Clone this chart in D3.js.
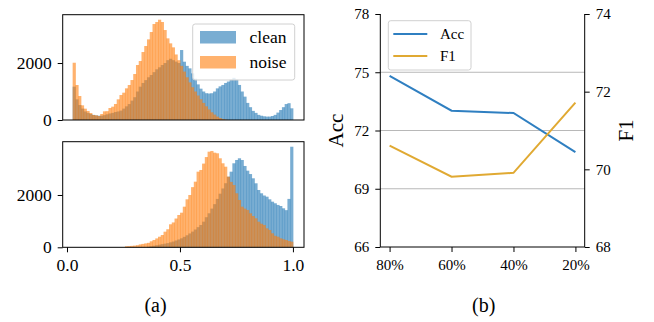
<!DOCTYPE html>
<html><head><meta charset="utf-8">
<script src="https://cdn.jsdelivr.net/npm/d3@7"></script>
<style>
body{margin:0;background:#fff}
svg{display:block}
svg text{font-family:"Liberation Serif","Times New Roman",serif !important;fill:#000}
</style>
</head><body><svg id="c" width="654" height="322"></svg>
<script>
// ---------- data ----------
const binStart = 0.025, binEnd = 1.0, binCount = 80;
const topClean = [1170,725,526,400,300,250,210,180,160,150,
  150,170,200,230,250,280,300,330,400,480,
  560,680,800,1000,1170,1300,1400,1500,1580,1680,
  1780,1850,1930,2000,2100,2150,2100,2050,2000,2456,
  2046,1900,1813,1637,1450,1250,1100,1000,940,930,
  940,1000,1110,1180,1230,1300,1350,1420,1480,1420,
  1230,1000,820,600,450,320,250,180,150,130,
  120,120,140,180,260,350,450,560,590,410];
const topNoise = [2010,1228,842,515,398,316,246,175,164,140,
  210,304,310,421,468,562,725,877,959,1111,
  1228,1403,1614,1930,2070,2386,2597,2830,3088,3369,
  3439,3520,3439,3158,2866,2690,2550,2300,2100,1900,
  1700,1500,1320,1150,1000,860,730,600,480,370,
  270,190,120,70,35,12,0,0,0,0,
  0,0,0,0,0,0,0,0,0,0,
  0,0,0,0,0,0,0,0,0,0];
const bottomClean = [0,0,0,0,0,0,0,0,0,0,
  0,0,0,0,0,0,0,0,0,0,
  0,0,0,0,0,0,0,20,40,60,
  80,100,120,140,160,190,220,260,300,344,
  400,460,530,600,680,770,853,980,1150,1300,
  1480,1650,1850,2050,2250,2450,2700,2891,3212,3338,
  3403,3338,3109,2929,2800,2638,2447,2191,2065,1980,
  1935,1835,1744,1683,1620,1579,1491,1420,1850,3845];
const bottomNoise = [0,0,0,0,0,0,0,0,0,0,
  0,0,0,0,0,0,0,0,0,40,
  45,55,65,80,110,130,150,170,230,280,
  340,405,470,597,690,880,950,1100,1235,1323,
  1553,1835,2000,2300,2509,2891,2956,3200,3450,3656,
  3683,3618,3594,3403,3212,3082,2700,2500,2382,2065,
  1809,1553,1480,1426,1300,1197,1109,979,900,853,
  726,662,535,440,405,344,306,279,241,214];
const histYTicks = [0, 2000];
const histXTicks = [0.0, 0.5, 1.0];
const histLegend = ["clean", "noise"];

const categories = ["80%", "60%", "40%", "20%"];
const acc = [74.81, 73.02, 72.90, 70.89];
const f1 = [70.61, 69.81, 69.91, 71.72];
const accTicks = [66, 69, 72, 75, 78];
const f1Ticks = [68, 70, 72, 74];
const lineLegend = ["Acc", "F1"];
const captions = ["(a)", "(b)"];

// ---------- styles ----------
const SERIF = '"Liberation Serif","Times New Roman",serif';
const blueFill = "rgba(31,119,180,0.6)";
const orangeFill = "rgba(255,127,14,0.6)";
const accColor = "#2f7fc1";
const f1Color = "#e0a932";

const svg = d3.select("#c");

// ---------- histograms ----------
const hx = d3.scaleLinear().domain([-0.019, 1.049]).range([62.7, 304]);
const bw = (binEnd - binStart) / binCount;

function styleText(sel, size) {
  sel.attr("font-size", size).style("font-family", SERIF).style("font-size", size + "px").attr("fill", "#000");
}

function histPanel(top, bottom, clean, noise, showX, showLegend) {
  const g = svg.append("g");
  const ymax = d3.max(clean.concat(noise)) * 1.05;
  const y = d3.scaleLinear().domain([0, ymax]).range([bottom, top]);
  [[clean, blueFill], [noise, orangeFill]].forEach(([arr, col]) => {
    g.append("g").selectAll("rect").data(arr).join("rect")
      .attr("x", (d, i) => hx(binStart + i * bw))
      .attr("width", (d, i) => hx(binStart + (i + 1) * bw) - hx(binStart + i * bw) + 0.45)
      .attr("y", d => y(d))
      .attr("height", d => y(0) - y(d))
      .attr("fill", col);
  });
  const ya = g.append("g").attr("transform", `translate(${hx.range()[0]},0)`)
    .call(d3.axisLeft(y).tickValues(histYTicks).tickFormat(d3.format("d")).tickSize(5).tickPadding(6).tickSizeOuter(0));
  ya.attr("font-family", null);
  ya.select(".domain").remove();
  ya.selectAll("line").attr("stroke", "#000").attr("stroke-width", 1);
  styleText(ya.selectAll("text"), 17.5);
  if (showX) {
    const xa = g.append("g").attr("transform", `translate(0,${bottom})`)
      .call(d3.axisBottom(hx).tickValues(histXTicks).tickFormat(d3.format(".1f")).tickSize(5).tickSizeOuter(0));
    xa.attr("font-family", null);
    xa.select(".domain").remove();
    xa.selectAll("line").attr("stroke", "#000").attr("stroke-width", 1);
    styleText(xa.selectAll("text"), 17.5);
    xa.selectAll("text").attr("y", 11.5);
  }
  g.append("rect").attr("x", hx.range()[0]).attr("y", top)
    .attr("width", hx.range()[1] - hx.range()[0]).attr("height", bottom - top)
    .attr("fill", "none").attr("stroke", "#000").attr("stroke-width", 1);
  if (showLegend) {
    const lg = g.append("g");
    lg.append("rect").attr("x", 192.7).attr("y", 24).attr("width", 102).attr("height", 56)
      .attr("rx", 2.5).attr("fill", "rgba(255,255,255,0.8)").attr("stroke", "#d0d0d0").attr("stroke-width", 1);
    [blueFill, orangeFill].forEach((c, i) => {
      lg.append("rect").attr("x", 200).attr("y", 31 + i * 25).attr("width", 36).attr("height", 12.5).attr("fill", c);
      const t = lg.append("text").attr("x", 249.5).attr("y", 37.3 + i * 25).attr("dy", "0.35em").text(histLegend[i]);
      styleText(t, 17.5);
    });
  }
}
histPanel(14.7, 120, topClean, topNoise, false, true);
histPanel(141.7, 247.3, bottomClean, bottomNoise, true, false);

// ---------- line chart ----------
const lx = d3.scaleLinear().domain([-0.15, 3.15]).range([380.3, 584.7]);
const yl = d3.scaleLinear().domain([66, 78]).range([247, 14]);
const yr = d3.scaleLinear().domain([68, 74]).range([247, 14]);
const rg = svg.append("g");

rg.append("g").selectAll("line").data(accTicks.filter(t => t > 66 && t < 78)).join("line")
  .attr("x1", lx.range()[0]).attr("x2", lx.range()[1])
  .attr("y1", d => yl(d)).attr("y2", d => yl(d))
  .attr("stroke", "#b8b8b8").attr("stroke-width", 1);

rg.append("line").attr("x1", lx.range()[0]).attr("x2", lx.range()[0]).attr("y1", 14).attr("y2", 247).attr("stroke", "#000");
rg.append("line").attr("x1", lx.range()[1]).attr("x2", lx.range()[1]).attr("y1", 14).attr("y2", 247).attr("stroke", "#000");
rg.append("line").attr("x1", lx.range()[0]).attr("x2", lx.range()[1]).attr("y1", 247).attr("y2", 247).attr("stroke", "#000");

const axL = rg.append("g").attr("transform", `translate(${lx.range()[0]},0)`)
  .call(d3.axisLeft(yl).tickValues(accTicks).tickFormat(d3.format("d")).tickSize(5).tickPadding(6).tickSizeOuter(0));
const axR = rg.append("g").attr("transform", `translate(${lx.range()[1]},0)`)
  .call(d3.axisRight(yr).tickValues(f1Ticks).tickFormat(d3.format("d")).tickSize(5).tickPadding(6).tickSizeOuter(0));
const axB = rg.append("g").attr("transform", `translate(0,247)`)
  .call(d3.axisBottom(lx).tickValues(d3.range(categories.length)).tickFormat(i => categories[i]).tickSize(5).tickSizeOuter(0));
[axL, axR, axB].forEach(a => {
  a.attr("font-family", null);
  a.select(".domain").remove();
  a.selectAll("line").attr("stroke", "#000").attr("stroke-width", 1);
  styleText(a.selectAll("text"), 15);
});
axB.selectAll("text").attr("y", 12.5);

const lineGen = yScale => d3.line().x((d, i) => lx(i)).y(d => yScale(d));
rg.append("path").datum(acc).attr("d", lineGen(yl)).attr("fill", "none").attr("stroke", accColor).attr("stroke-width", 2);
rg.append("path").datum(f1).attr("d", lineGen(yr)).attr("fill", "none").attr("stroke", f1Color).attr("stroke-width", 2);

styleText(rg.append("text").attr("transform", "translate(343,130.5) rotate(-90)").attr("text-anchor", "middle").text("Acc"), 21);
styleText(rg.append("text").attr("transform", "translate(633,130.5) rotate(-90)").attr("text-anchor", "middle").text("F1"), 21);

const lg2 = rg.append("g");
lg2.append("rect").attr("x", 388.3).attr("y", 20.7).attr("width", 82.7).attr("height", 49.3)
  .attr("rx", 2.5).attr("fill", "rgba(255,255,255,0.8)").attr("stroke", "#d0d0d0").attr("stroke-width", 1);
[accColor, f1Color].forEach((c, i) => {
  lg2.append("line").attr("x1", 393.3).attr("x2", 427.3).attr("y1", 34 + i * 22).attr("y2", 34 + i * 22)
    .attr("stroke", c).attr("stroke-width", 2);
  styleText(lg2.append("text").attr("x", 440).attr("y", 34 + i * 22).attr("dy", "0.35em").text(lineLegend[i]), 15);
});

styleText(svg.append("text").attr("x", 155.5).attr("y", 312).attr("text-anchor", "middle").text(captions[0]), 20);
styleText(svg.append("text").attr("x", 483.7).attr("y", 312).attr("text-anchor", "middle").text(captions[1]), 20);
</script>
</body></html>
